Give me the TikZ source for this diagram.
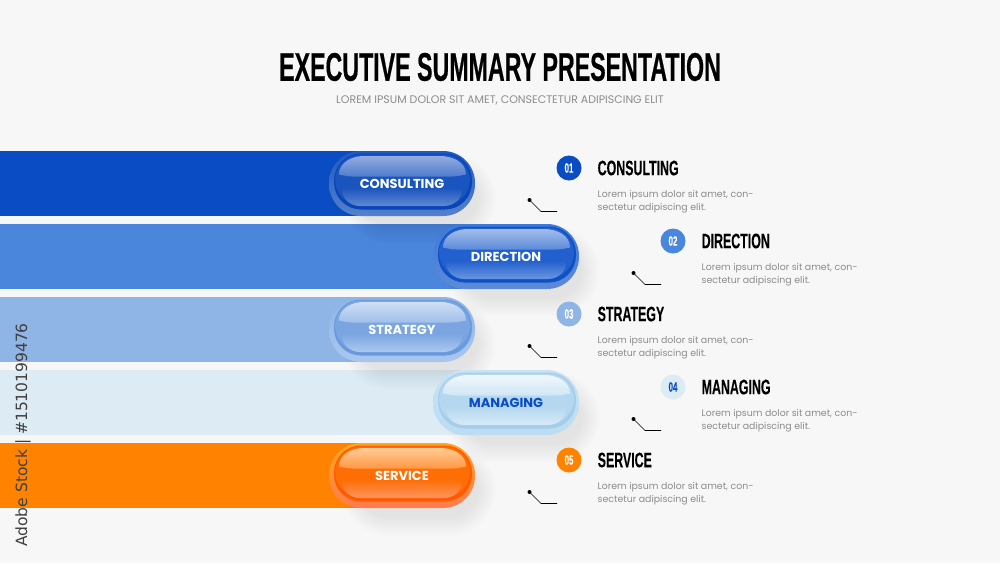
\documentclass[tikz,border=0pt]{standalone}
\usepackage{fontspec}
\setmainfont{Poppins}
\newfontfamily\headfont[FakeStretch=0.58,FakeBold=0.4]{Liberation Sans Bold}
\newfontfamily\subheadfont[FakeStretch=0.59,FakeBold=0.1]{Liberation Sans Bold}
\newfontfamily\stockfont{DejaVu Sans}
\usetikzlibrary{positioning}
\definecolor{pagebg}{HTML}{F7F7F7}
\definecolor{bodygray}{HTML}{8C8C8C}
% bars
\definecolor{barA}{HTML}{0A4CC4}
\definecolor{barB}{HTML}{4A86DC}
\definecolor{barC}{HTML}{8FB4E6}
\definecolor{barD}{HTML}{DCEBF4}
\definecolor{barE}{HTML}{FF8300}
% pills
\definecolor{edgeA}{HTML}{1E59C2}\definecolor{lipA}{HTML}{5581CC}\definecolor{ringA}{HTML}{0846B8}\definecolor{hiA}{HTML}{93ACDF}\definecolor{faceA}{HTML}{1A54BE}\definecolor{glowA}{HTML}{5F89D2}\colorlet{txtA}{white}
\definecolor{edgeB}{HTML}{3E78D8}\definecolor{lipB}{HTML}{5C8AD8}\definecolor{ringB}{HTML}{0F50C4}\definecolor{hiB}{HTML}{A3BDEA}\definecolor{faceB}{HTML}{2160CE}\definecolor{glowB}{HTML}{6A96E0}\colorlet{txtB}{white}
\definecolor{edgeC}{HTML}{8FB4E6}\definecolor{lipC}{HTML}{A9C6EE}\definecolor{ringC}{HTML}{699ADD}\definecolor{hiC}{HTML}{CFDFF5}\definecolor{faceC}{HTML}{7AA5E0}\definecolor{glowC}{HTML}{ABC8EF}\colorlet{txtC}{white}
\definecolor{edgeD}{HTML}{C9E2F4}\definecolor{lipD}{HTML}{BBDCF2}\definecolor{ringD}{HTML}{A4CDEA}\definecolor{hiD}{HTML}{F0F7FC}\definecolor{faceD}{HTML}{B5D8F0}\definecolor{glowD}{HTML}{D6EAF8}\definecolor{txtD}{HTML}{0A4CC4}
\definecolor{edgeE}{HTML}{FFA51E}\definecolor{lipE}{HTML}{FF7C4E}\definecolor{ringE}{HTML}{FF5A00}\definecolor{hiE}{HTML}{FFCB94}\definecolor{faceE}{HTML}{FF6E05}\definecolor{glowE}{HTML}{FF9460}\colorlet{txtE}{white}
\tikzset{
  pilltext/.style={font=\bfseries\fontsize{13}{13}\selectfont,inner sep=0pt},
  numdot/.style={circle,minimum size=25pt,inner sep=0pt,font=\subheadfont\fontsize{13.5}{13.5}\selectfont},
  headtext/.style={anchor=west,inner sep=0pt,font=\subheadfont\fontsize{21}{21}\selectfont,text=black},
  bodytext/.style={anchor=north west,inner sep=0pt,align=left,text=bodygray,font=\fontsize{9.4}{13.2}\selectfont},
  leader/.style={black,line width=0.7pt},
}
\begin{document}
\begin{tikzpicture}[x=1pt,y=-1pt]
    % page
    \fill[pagebg] (0,0) rectangle (1000,563);
    \useasboundingbox (0,0) rectangle (1000,563);
    % title
    \node[inner sep=0pt,font=\headfont\fontsize{40}{40}\selectfont] (title) at (500,67) {EXECUTIVE SUMMARY PRESENTATION};
    \node[inner sep=0pt,text=bodygray,font=\fontsize{11}{11}\selectfont] (subtitle) at (500,100) {LOREM IPSUM DOLOR SIT AMET, CONSECTETUR ADIPISCING ELIT};
    % bars
    \foreach \n/\xe/\yc in {A/400/183.5,B/505/256.5,C/400/329.5,D/505/402.5,E/400/475.5}
        \fill[bar\n] (0,\yc-32.5) rectangle (\xe,\yc+32.5);
    % shadows
    \foreach \xc/\yc in {402/183.5,506/256.5,402/329.5,506/402.5,402/475.5}
        \foreach \g in {2,4,...,20}
            \fill[black,opacity=0.009,rounded corners=26pt+\g pt] (\xc-40-\g,\yc-10-\g) rectangle (\xc+74+\g,\yc+40+\g);
    % pills
    \foreach \n/\xc/\yc/\lab in {A/402/183.5/CONSULTING,B/506/256.5/DIRECTION,C/402/329.5/STRATEGY,D/506/402.5/MANAGING,E/402/475.5/SERVICE}{
        \shade[top color=edge\n,middle color=lip\n,bottom color=lip\n,rounded corners=32pt] (\xc-73,\yc-32.5) rectangle (\xc+73,\yc+32.5);
        \fill[ring\n,rounded corners=27pt] (\xc-68,\yc-30) rectangle (\xc+70,\yc+26);
        \fill[face\n,rounded corners=26pt] (\xc-67,\yc-29) rectangle (\xc+68,\yc+22);
        \shade[top color=face\n,bottom color=glow\n] (\xc-60,\yc+6) to[out=90,in=180] (\xc-55,\yc+5) -- (\xc+55,\yc+5) to[out=0,in=90] (\xc+60,\yc+6) to[out=-90,in=0] (\xc+42,\yc+22.5) -- (\xc-42,\yc+22.5) to[out=180,in=-90] cycle;
        \shade[top color=hi\n,bottom color=hi\n!45!face\n] (\xc-63,\yc-9) to[out=90,in=180] (\xc-38,\yc-27.5) -- (\xc+38,\yc-27.5) to[out=0,in=90] (\xc+64,\yc-9) to[out=-170,in=0] (\xc+50,\yc-7) -- (\xc-50,\yc-7) to[out=180,in=-10] cycle;
        \node[pilltext,text=txt\n] (pill\n) at (\xc,\yc) {\lab};
    }
    % number, heading and text
    \foreach \n/\xc/\yc/\num/\lab in {A/569/168/01/CONSULTING,B/673/241/02/DIRECTION,C/569/314/03/STRATEGY,D/673/387/04/MANAGING,E/569/460/05/SERVICE}{
        \node[numdot,fill=bar\n,text=txt\n] (num\n) at (\xc,\yc) {\num};
        \node[headtext] (head\n) at (\xc+28.5,\yc) {\lab};
        \node[bodytext] (body\n) at (\xc+28.5,\yc+22) {Lorem ipsum dolor sit amet, con-\\sectetur adipiscing elit.};
        \coordinate (dot\n) at (\xc-39.5,\yc+32);
        \coordinate (bend\n) at (\xc-28,\yc+43.5);
        \coordinate (end\n) at (\xc-12,\yc+43.5);
        \draw[leader] (dot\n) -- (bend\n) -- (end\n);
        \fill[black] (dot\n) circle (2pt);
    }
    % side mark
    \node[rotate=90,inner sep=0pt,text=black!75,font=\stockfont\fontsize{15.5}{15.5}\selectfont] (stock) at (23,435) {Adobe Stock | \#1510199476};
\end{tikzpicture}
\end{document}
